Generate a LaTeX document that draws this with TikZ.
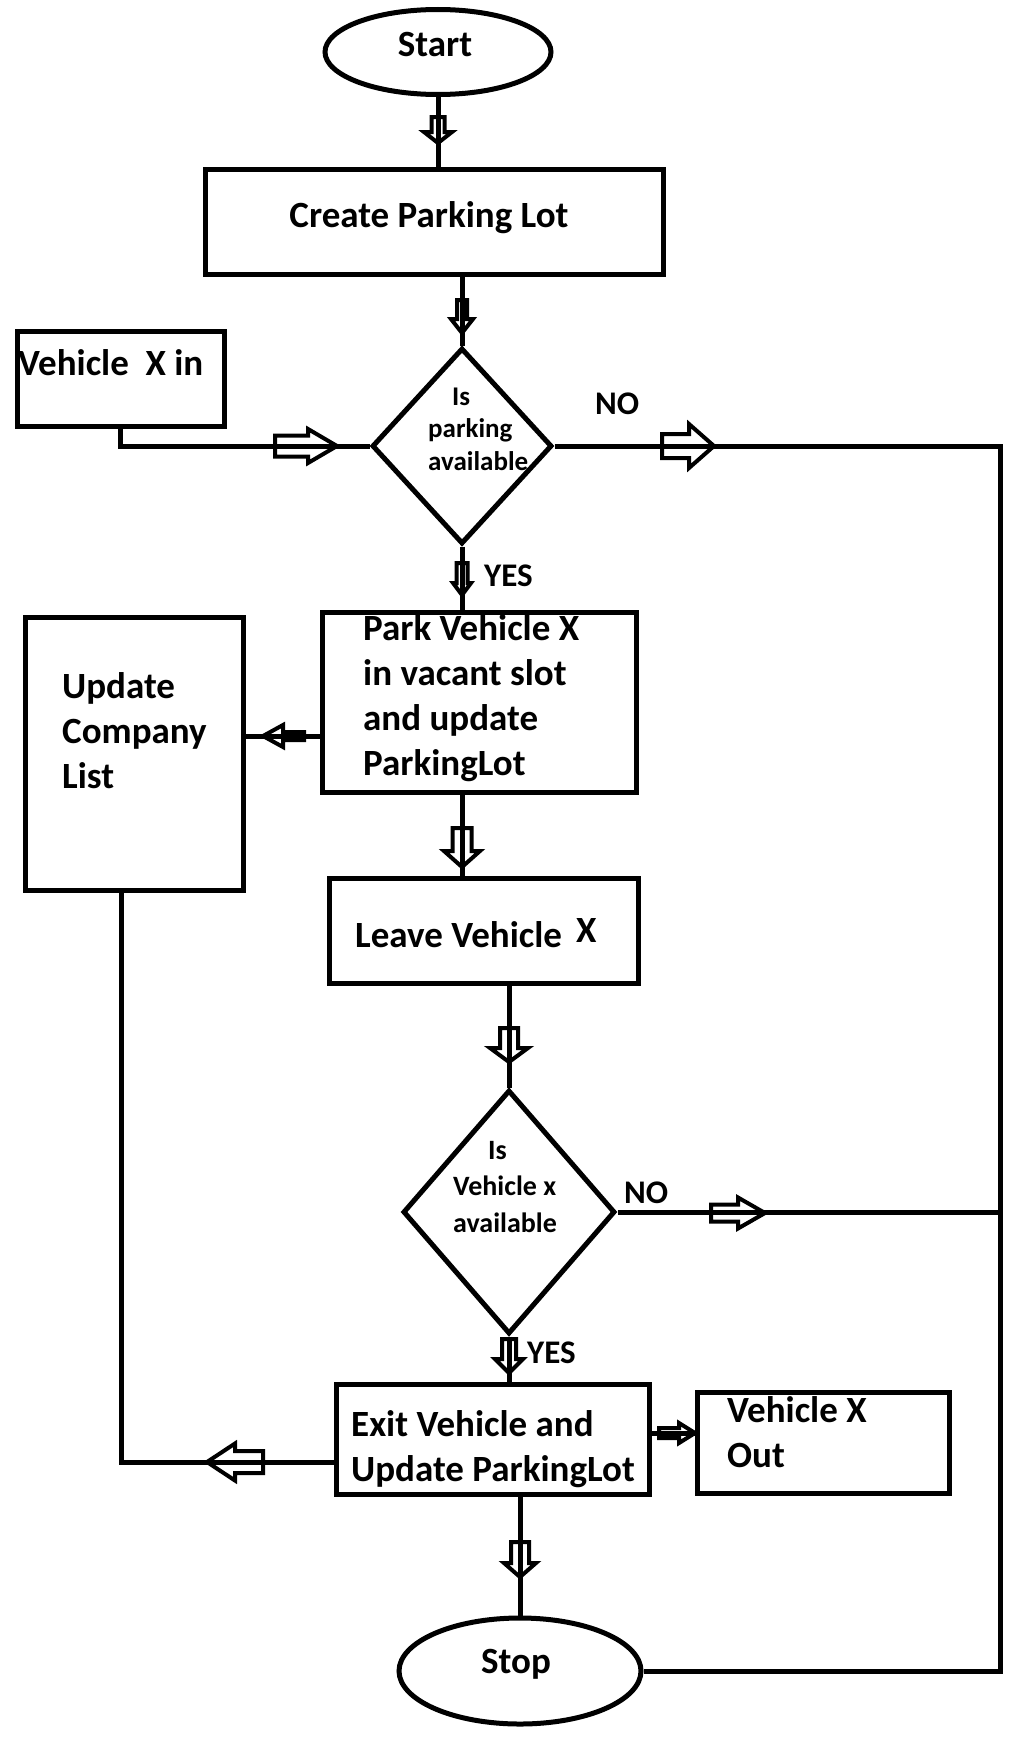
\documentclass[tikz,border=0pt]{standalone}
\usepackage{fontspec}
\setmainfont{Carlito}
\usetikzlibrary{shapes.geometric}

\tikzset{
  shp/.style={draw, line width=5pt, inner sep=0pt},
  box/.style={shp, rectangle},
  oval/.style={shp, ellipse},
  decision/.style={shp, diamond},
  conn/.style={line width=5pt},
  lbl/.style={font=\fontsize{37}{45}\selectfont\bfseries, inner sep=0pt, align=left, anchor=base west},
  yn/.style={lbl, font=\fontsize{33}{40}\selectfont\bfseries},
  % hollow block arrow, tip at the origin: length/head length/head width/shaft width
  pics/blk/.style args={#1/#2/#3/#4}{code={
    \draw[line width=4pt, line join=miter]
      (0,0) -- (-#2,#3/2) -- (-#2,#4/2) -- (-#1,#4/2)
      -- (-#1,-#4/2) -- (-#2,-#4/2) -- (-#2,-#3/2) -- cycle;
  }}
}

\begin{document}
\begin{tikzpicture}[x=1pt, y=-1pt]
  \useasboundingbox (0,0) rectangle (1025,1753);

  % shapes
  \node[oval, minimum width=226, minimum height=85] (start) at (438,52) {};
  \node[box, minimum width=458, minimum height=105] (createLot) at (434,221.5) {};
  \node[box, minimum width=207, minimum height=95] (vehIn) at (120.5,378.5) {};
  \node[decision, minimum width=180, minimum height=196] (isParking) at (462,446) {};
  \node[box, minimum width=314, minimum height=180] (parkVeh) at (479,702) {};
  \node[box, minimum width=218, minimum height=273] (updList) at (134,753.5) {};
  \node[box, minimum width=309, minimum height=105] (leaveVeh) at (483.5,930.5) {};
  \node[decision, minimum width=212, minimum height=244] (isVeh) at (509,1212) {};
  \node[box, minimum width=313, minimum height=110] (exitVeh) at (492.5,1439) {};
  \node[box, minimum width=252, minimum height=101] (vehOut) at (823,1442.5) {};
  \node[oval, minimum width=242, minimum height=106] (stop) at (520,1671) {};
  \coordinate (rx) at (1000,446);

  % texts (multi-line ones sit on the baseline of their last line)
  \node[lbl, anchor=base] (startT) at (435,57) {Start};
  \node[lbl, anchor=base] (createT) at (429,227) {Create Parking Lot};
  \node[lbl] (vehInT) at (18,375) {Vehicle\ \ X in};
  \node[lbl, font=\fontsize{27}{32.5}\selectfont\bfseries] (isParkingT) at (428,470) {\hspace*{24pt}Is\\parking\\available};
  \node[yn] (no1) at (595,414) {NO};
  \node[yn] (yes1) at (484,586) {YES};
  \node[lbl] (parkT) at (363,775) {Park Vehicle X\\in vacant slot\\and update\\ParkingLot};
  \node[lbl] (updT) at (62,788) {Update\\Company\\List};
  \node[lbl] (leaveT) at (355,947) {Leave Vehicle\hspace{14pt}\raisebox{5pt}{X}};
  \node[lbl, font=\fontsize{28}{36.5}\selectfont\bfseries] (isVehT) at (453,1232) {\hspace*{35pt}Is\\Vehicle x\\available};
  \node[yn] (no2) at (624,1203) {NO};
  \node[yn] (yes2) at (527,1363) {YES};
  \node[lbl] (exitT) at (351,1481) {Exit Vehicle and\\Update ParkingLot};
  \node[lbl] (vehOutT) at (727,1467) {Vehicle X\\Out};
  \node[lbl, anchor=base] (stopT) at (516,1673) {Stop};

  % connectors
  \draw[conn] (start.south) -- (start.south |- createLot.north);
  \draw[conn] (createLot.south -| isParking.north) -- (isParking.north);
  \draw[conn] (vehIn.south) |- (isParking.west);
  \draw[conn] (isParking.east) -- (isParking.east -| rx) |- (stop.east);
  \draw[conn] (isParking.south) -- (isParking.south |- parkVeh.north);
  \draw[conn] (parkVeh.west |- 0,736) -- (updList.east |- 0,736);
  \draw[conn] (isParking.south |- parkVeh.south) -- (isParking.south |- leaveVeh.north);
  \draw[conn] (isVeh.north |- leaveVeh.south) -- (isVeh.north);
  \draw[conn] (isVeh.east) -- (isVeh.east -| rx);
  \draw[conn] (isVeh.south) -- (isVeh.south |- exitVeh.north);
  \draw[conn] (exitVeh.east |- 0,1433) -- (vehOut.west |- 0,1433);
  \draw[conn] (exitVeh.west |- 0,1462) -| ([xshift=-13pt]updList.south);
  \draw[conn] (stop.north |- exitVeh.south) -- (stop.north);

  % arrow heads on the connectors
  \pic[rotate=-90] at (438,143) {blk=26/11/28/13};
  \pic[rotate=-90] at (462,333) {blk=33/14/22/10};
  \pic at (337,446) {blk=62/29/34/21};
  \pic at (714,446) {blk=52/25/44/24};
  \pic[rotate=-90] at (462,595) {blk=32/12/18/11};
  \pic[rotate=180] at (263,736) {blk=41/20/22/8};
  \pic[rotate=-90] at (462,867) {blk=39/16/36/19};
  \pic[rotate=-90] at (509,1062) {blk=34/14/38/18};
  \pic at (765,1213) {blk=54/27/31/17};
  \pic[rotate=-90] at (509,1373) {blk=34/14/28/14};
  \pic at (695,1433) {blk=36/16/20/10};
  \pic[rotate=180] at (207,1462) {blk=56/28/37/22};
  \pic[rotate=-90] at (520,1577) {blk=35/14/32/18};
\end{tikzpicture}
\end{document}
